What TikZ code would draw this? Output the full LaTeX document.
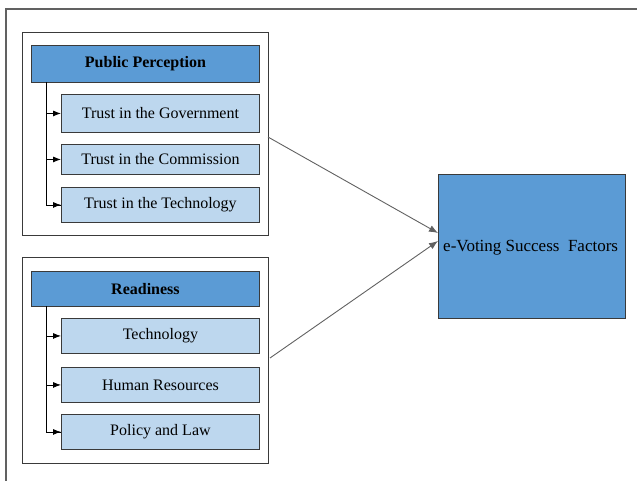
\documentclass[tikz,border=0pt]{standalone}
\usepackage{fontspec}
\setmainfont{Liberation Serif}
\usetikzlibrary{arrows.meta}
\definecolor{hdrblue}{HTML}{5B9BD5}
\definecolor{kidblue}{HTML}{BDD7EE}
\definecolor{edge}{HTML}{3A3A3A}
\tikzset{
  grp/.style={draw=edge, line width=0.9pt, fill=white},
  hdr/.style={draw=edge, line width=0.9pt, fill=hdrblue, font=\fontsize{16}{18}\selectfont\bfseries},
  kid/.style={draw=edge, line width=0.9pt, fill=kidblue, font=\fontsize{16}{18}\selectfont},
  goal/.style={draw=edge, line width=0.9pt, fill=hdrblue},
  tree/.style={draw=black, line width=0.8pt, -{Latex[length=8pt,width=6pt]}},
  link/.style={draw=edge!80, line width=0.9pt, -{Latex[length=9pt,width=7pt]}}
}
\begin{document}
\begin{tikzpicture}[x=1pt,y=-1pt]
\useasboundingbox (0,0) rectangle (637,481);
% outer frame (top and left lines only)
\coordinate (ftl) at (6,9);
\coordinate (ftr) at (637,9);
\coordinate (fbl) at (6,481);
\draw[edge!80, line width=1.2pt] (ftr) -- (ftl) -- (fbl);

% group 1
\node[grp, minimum width=246pt, minimum height=203pt, anchor=north west] (g1) at (22,32) {};
\node[hdr, minimum width=228pt, minimum height=37pt, anchor=north west] (h1) at (31,45) {Public Perception};
\node[kid, minimum width=198pt, minimum height=38pt, anchor=north west] (a1) at (61,94) {Trust in the Government};
\node[kid, minimum width=198pt, minimum height=30pt, anchor=north west] (a2) at (61,144) {Trust in the Commission};
\node[kid, minimum width=198pt, minimum height=35pt, anchor=north west] (a3) at (61,187) {Trust in the Technology};
\coordinate (t1) at (46,82);
\draw[black, line width=0.8pt] (t1) |- (a3.west);
\draw[tree] (t1 |- a1.west) -- (a1.west);
\draw[tree] (t1 |- a2.west) -- (a2.west);
\draw[tree] (t1 |- a3.west) -- (a3.west);

% group 2
\node[grp, minimum width=246pt, minimum height=206pt, anchor=north west] (g2) at (22,257) {};
\node[hdr, minimum width=228pt, minimum height=35pt, anchor=north west] (h2) at (31,271) {Readiness};
\node[kid, minimum width=198pt, minimum height=35pt, anchor=north west] (b1) at (61,318) {Technology};
\node[kid, minimum width=198pt, minimum height=35pt, anchor=north west] (b2) at (61,367) {Human Resources};
\node[kid, minimum width=198pt, minimum height=35pt, anchor=north west] (b3) at (61,414) {Policy and Law};
\coordinate (t2) at (46,306);
\draw[black, line width=0.8pt] (t2) |- (b3.west);
\draw[tree] (t2 |- b1.west) -- (b1.west);
\draw[tree] (t2 |- b2.west) -- (b2.west);
\draw[tree] (t2 |- b3.west) -- (b3.west);

% goal
\node[goal, minimum width=187pt, minimum height=144pt, anchor=north west] (goal) at (438,174) {};
\node[font=\fontsize{17}{19}\selectfont, anchor=west, inner sep=0pt] (gl) at (443,248) {e-Voting Success\ \ Factors};

% links
\coordinate (s1) at (268,137);
\coordinate (e1) at (438,233);
\coordinate (s2) at (270,358);
\coordinate (e2) at (438,241);
\draw[link] (s1) -- (e1);
\draw[link] (s2) -- (e2);
\end{tikzpicture}
\end{document}
